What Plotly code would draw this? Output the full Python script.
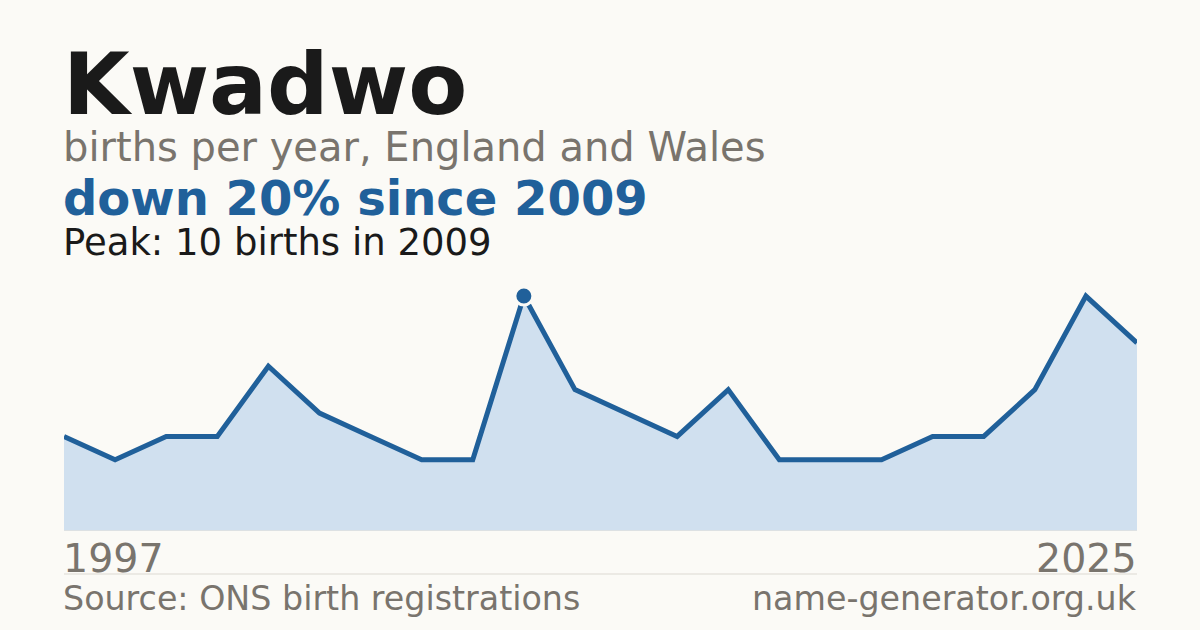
import plotly.graph_objects as go

# data (gaps = years with too few births to publish)
years = [1997, 1998, 2000, 2001, 2003, 2004, 2006, 2007, 2008, 2009, 2010,
         2012, 2013, 2015, 2016, 2018, 2019, 2021, 2022, 2023, 2024, 2025]
births = [4, 3, 4, 4, 7, 5, 4, 3, 3, 10, 6, 5, 4, 6, 3, 3, 3, 4, 4, 6, 10, 8]

name = "Kwadwo"
subtitle = "births per year, England and Wales"
peak_year = 2009
peak_val = 10
change_text = "down 20% since 2009"
peak_text = "Peak: 10 births in 2009"
source_text = "Source: ONS birth registrations"
site_text = "name-generator.org.uk"

W, H = 1200, 630
L, R, T, B = 64, 63, 282, 100
BG = "#fbfaf6"
BLUE = "#20609a"
FILL = "#d0e0ef"
GREY = "#79746d"
FONT = "DejaVu Sans"

def px(x):
    return (x - L) / (W - L - R)

def py(y):
    return (H - B - y) / (H - T - B)

def text_at(x, baseline, txt, size, color, bold=False, anchor="left"):
    # bottom of the annotation box sits a descent below the baseline
    bottom = baseline + 0.236 * size + 1
    if bold:
        txt = "<b>" + txt + "</b>"
    return dict(x=px(x), y=py(bottom), xref="paper", yref="paper",
                xanchor=anchor, yanchor="bottom", text=txt, showarrow=False,
                xshift=-3 if anchor == "left" else 2,
                font=dict(family=FONT, size=size, color=color))

xs = [str(y) for y in years]

fig = go.Figure()
fig.add_trace(go.Scatter(
    x=xs, y=births, mode="lines", fill="tozeroy", fillcolor=FILL,
    line=dict(color=BLUE, width=5), hoverinfo="x+y"
))
fig.add_trace(go.Scatter(
    x=[str(peak_year)], y=[peak_val], mode="markers",
    marker=dict(size=18, color=BLUE, line=dict(color=BG, width=3)),
    hoverinfo="skip", cliponaxis=False
))

annotations = [
    text_at(64, 115, name, 86, "#1a1a1a", bold=True),
    text_at(64, 162, subtitle, 40, GREY),
    text_at(64, 216, change_text, 48, BLUE, bold=True),
    text_at(64, 256, peak_text, 37, "#1a1a1a"),
    text_at(64, 573, str(years[0]), 39.5, GREY),
    text_at(1137, 573, str(years[-1]), 39.5, GREY, anchor="right"),
    text_at(64, 611, source_text, 33.3, GREY),
    text_at(1137, 611, site_text, 33.3, GREY, anchor="right"),
]

fig.update_layout(
    width=W, height=H,
    margin=dict(l=L, r=R, t=T, b=B),
    paper_bgcolor=BG, plot_bgcolor=BG,
    showlegend=False,
    annotations=annotations,
    shapes=[dict(type="line", xref="paper", yref="paper",
                 x0=0, x1=1, y0=py(574), y1=py(574),
                 line=dict(color="#dcd9d2", width=1))],
)
fig.update_xaxes(type="category", range=[0, len(xs) - 1], showgrid=False,
                 zeroline=False, showticklabels=False,
                 showline=True, linecolor="#dde1e3", linewidth=1,
                 fixedrange=True)
fig.update_yaxes(range=[0, 10.6], showgrid=False, zeroline=False,
                 showticklabels=False, showline=False, fixedrange=True)

# drop the browser's default page margin so the card sits at 0,0
fig.write_html("out.html", config={"displayModeBar": False},
               post_script="document.body.style.margin='0';")
